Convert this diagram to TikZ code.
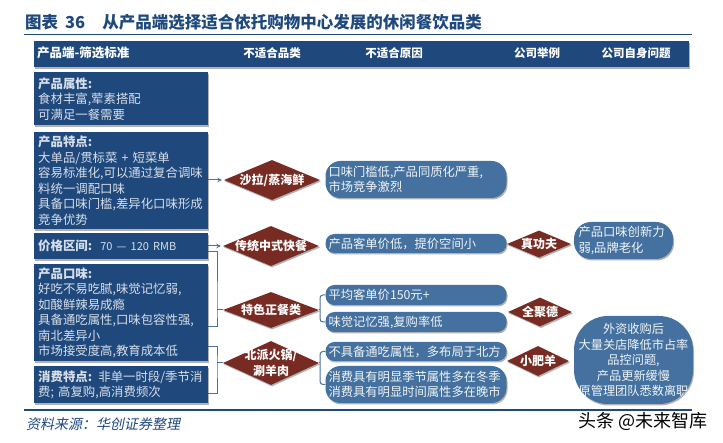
\documentclass[tikz,border=0pt]{standalone}
\usepackage{fontspec}
\setmainfont{Noto Sans CJK SC}
\newfontfamily\srcfont[FakeSlant=0.2]{Noto Sans CJK SC}
\usetikzlibrary{shapes.geometric,shadows}
\definecolor{boxblue}{HTML}{1F497D}
\definecolor{pillblue}{HTML}{44719F}
\definecolor{diared}{HTML}{772B22}
\definecolor{linkblue}{HTML}{4A7299}
\tikzset{
  softshadow/.style={drop shadow={shadow xshift=1pt,shadow yshift=-1.5pt,fill=black,opacity=.3}},
  leftbox/.style={fill=boxblue,softshadow,text=white!82!boxblue,anchor=north west,align=left,inner sep=0pt,inner xsep=4pt,font=\fontsize{12.4}{15.5}\selectfont},
  pill/.style={fill=pillblue,softshadow,text=white!92!pillblue,inner sep=0pt,font=\fontsize{12.3}{15.5}\selectfont},
  dia/.style={diamond,fill=diared,softshadow,inner sep=0pt,aspect=2.4},
  dialab/.style={text=white,align=center,inner sep=0pt,font=\fontsize{12}{16}\selectfont\bfseries},
  headlab/.style={text=white,inner sep=0pt,font=\fontsize{11.5}{14}\selectfont\bfseries},
  link/.style={linkblue,line width=1pt}
}
\begin{document}
\begin{tikzpicture}[x=1pt,y=-1pt,>=stealth]
\useasboundingbox (0,0) rectangle (723,443);
% title and rules
\node[anchor=west,inner sep=0pt,text=boxblue,font=\fontsize{16.5}{18}\selectfont\bfseries] (title) at (25,22) {图表\hspace{7pt}36\hspace{17pt}从产品端选择适合依托购物中心发展的休闲餐饮品类};
\path (24,35) coordinate (ruleAl) (692,35) coordinate (ruleAr) (24,410) coordinate (ruleBl) (692,410) coordinate (ruleBr);
\draw[boxblue,line width=1pt] (ruleAl)--(ruleAr);
\draw[boxblue,line width=1.2pt] (ruleBl)--(ruleBr);
\node[anchor=west,inner sep=0pt,text=boxblue,font=\fontsize{14}{16}\selectfont\srcfont] (source) at (26,424) {资料来源：华创证券整理};
\node[anchor=west,inner sep=0pt,font=\fontsize{18}{20}\selectfont] (mark) at (578,421) {头条 @未来智库};
% header
\node[leftbox,minimum width=655pt,minimum height=26pt] (head) at (34,41) {};
\foreach \n/\x/\lab in {hb/272/不适合品类,hc/394/不适合原因,hd/537/公司举例,he/636/公司自身问题}
  \node[headlab] (\n) at (\x,53) {\lab};
\node[headlab,anchor=west,font=\fontsize{12.5}{14}\selectfont\bfseries] (ha) at (37,53) {产品端-筛选标准};
% left boxes
\foreach \n/\y/\h/\lab in {
  b1/72/53/{\textbf{产品属性:}\\食材丰富,荤素搭配\\可满足一餐需要},
  b2/132/97/{\textbf{产品特点:}\\大单品/贯标菜 + 短菜单\\容易标准化,可以通过复合调味\\料统一调配口味\\具备口味门槛,差异化口味形成\\竞争优势},
  b3/233/26/{\textbf{价格区间:}\hspace{2pt} {\fontsize{11}{15.5}\selectfont 70 — 120 RMB}},
  b4/264/97/{\textbf{产品口味:}\\好吃不易吃腻,味觉记忆弱,\\如酸鲜辣易成瘾\\具备通吃属性,口味包容性强,\\南北差异小\\市场接受度高,教育成本低},
  b5/366/37/{\textbf{消费特点:} 非单一时段/季节消\\费; 高复购,高消费频次}}
  \node[leftbox,minimum width=174pt,text width=166pt,minimum height=\h pt] (\n) at (34,\y) {\lab};
% diamonds
\foreach \n/\x/\y/\w/\h/\lab in {
  d1/272/180/96/40/{沙拉/蒸海鲜},
  d2/271/246/96/40/{传统中式快餐},
  d3/271/310/96/36/{特色正餐类},
  d4/271/363/96/44/{北派火锅/\\涮羊肉},
  z1/539/244/64/27/{真功夫},
  z2/540/312/64/29/{全聚德},
  z3/538/361/62/30/{小肥羊}}{
  \node[dia,minimum width=\w pt,minimum height=\h pt] (\n) at (\x,\y) {};
  \node[dialab] (\n t) at (\x,\y) {\lab};
}
% reasons
\foreach \n/\y/\h/\r/\lab in {
  p1/179.5/37/15/{口味门槛低,产品同质化严重,\\市场竞争激烈},
  p2/243.5/19/9/{产品客单价低，提价空间小},
  p3/295/20/9/{平均客单价150元+},
  p4/322/20/9/{味觉记忆强,复购率低},
  p5/351.5/19/9/{不具备通吃属性，多布局于北方},
  p6/384.5/37/15/{消费具有明显季节属性多在冬季\\消费具有明显时间属性多在晚市}}
  \node[pill,minimum width=181pt,text width=175pt,align=left,minimum height=\h pt,rounded corners=\r pt] (\n) at (416,\y) {\lab};
% company problems
\node[pill,minimum width=99pt,text width=90pt,align=left,minimum height=37pt,rounded corners=17pt] (q1) at (623.5,240.5) {产品口味创新力\\弱,品牌老化};
\node[pill,minimum width=119pt,text width=115pt,align=center,minimum height=88pt,rounded corners=34pt,font=\fontsize{12.2}{15.5}\selectfont] (q2) at (633.5,360) {外资收购后\\大量关店降低市占率\\品控问题,\\产品更新缓慢\\原管理团队悉数离职};
% connectors
\path (208,252) coordinate (b3o) (208,327) coordinate (b4o) (217,310) coordinate (j1)
      (208,347) coordinate (b4p) (208,394) coordinate (b5o) (217,363) coordinate (j2)
      (320,310) coordinate (j3) (320,363) coordinate (j4);
\draw[link,->,shorten >=2pt] (b2.east|-d1)--(d1);
\draw[link,->,shorten >=2pt] (b3.east|-d2)--(d2);
\draw[link] (b3o)-|(j1)|-(b4o) (j1)--(d3);
\draw[link] (b4p)-|(j2)|-(b5o) (j2)--(d4);
\draw[link,rounded corners=3pt] (p3.west)-|(j3)|-(p4.west);
\draw[link] (d3)--(j3);
\draw[link,rounded corners=3pt] (p5.west)-|(j4)|-(p6.west);
\draw[link] (d4)--(j4);
\end{tikzpicture}
\end{document}
